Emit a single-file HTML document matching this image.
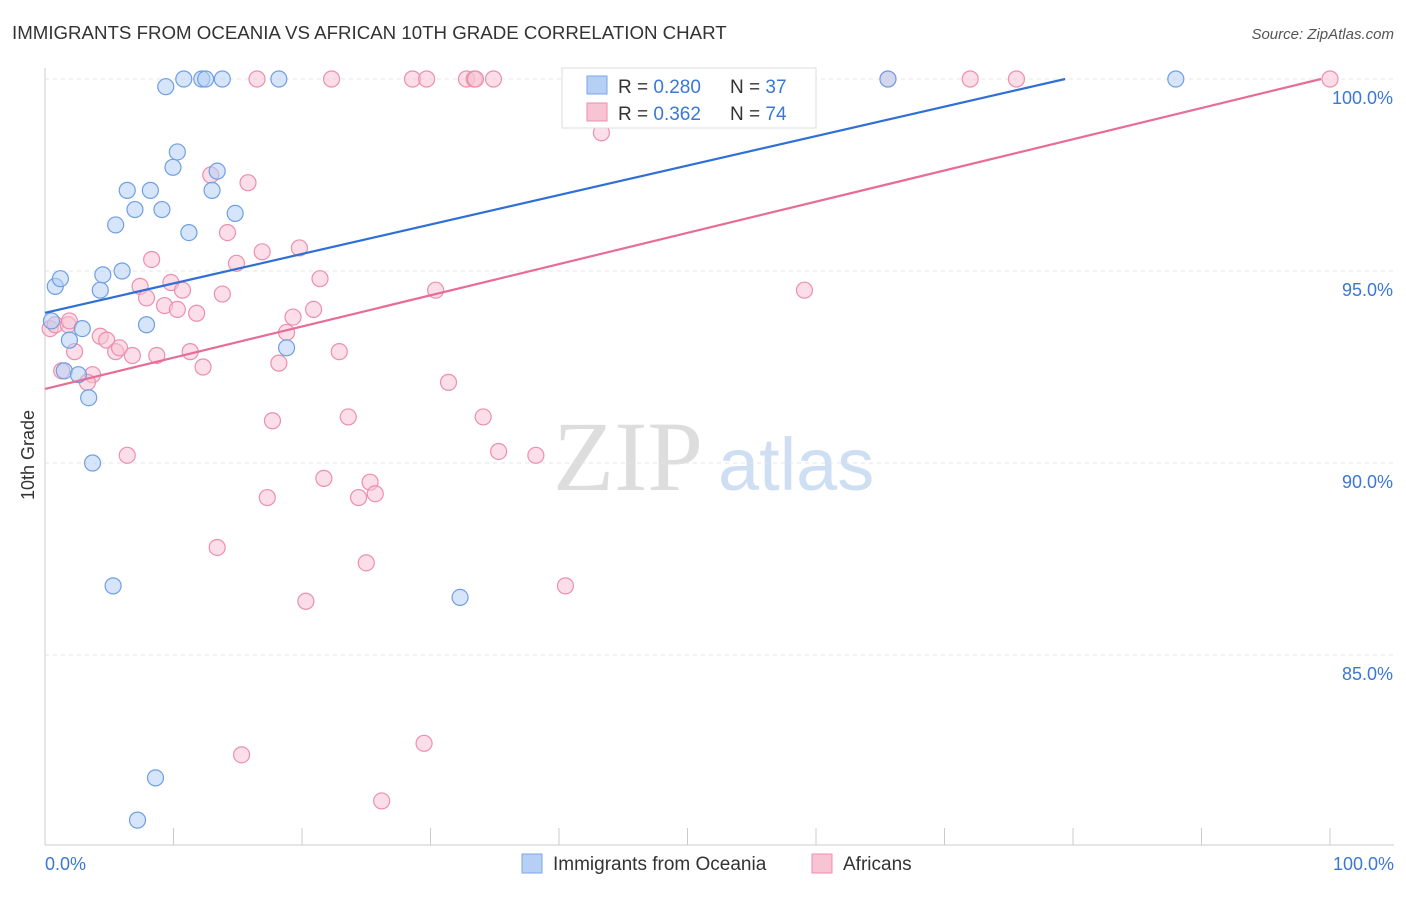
<!DOCTYPE html>
<html><head><meta charset="utf-8"><style>
body{margin:0;background:#fff;font-family:"Liberation Sans",sans-serif;}
</style></head><body>
<svg id="c" width="1406" height="892" xmlns="http://www.w3.org/2000/svg">
<text x="12" y="39" font-size="18.7" fill="#333">IMMIGRANTS FROM OCEANIA VS AFRICAN 10TH GRADE CORRELATION CHART</text>
<text x="1394" y="39" font-size="15" fill="#555" font-style="italic" text-anchor="end">Source: ZipAtlas.com</text>
<text x="34" y="455" font-size="18" fill="#333" transform="rotate(-90 34 455)" text-anchor="middle">10th Grade</text>
<text x="553" y="490" font-size="100" fill="#ddd" font-family="Liberation Serif">ZIP</text>
<text x="718" y="490" font-size="74" fill="#cfdff3">atlas</text>
<g id="grid"></g><g id="marks"></g>
<g>
<rect x="562" y="68" width="254" height="60" fill="#fff" stroke="#ddd"/>
<rect x="587" y="76" width="20" height="18" fill="#b5cff5" stroke="#7aa5e6"/>
<rect x="587" y="103" width="20" height="18" fill="#f8c3d3" stroke="#ec8fae"/>
<text x="618" y="93" font-size="19" fill="#333">R = <tspan fill="#3a78d4">0.280</tspan></text>
<text x="730" y="93" font-size="19" fill="#333">N = <tspan fill="#3a78d4">37</tspan></text>
<text x="618" y="120" font-size="19" fill="#333">R = <tspan fill="#3a78d4">0.362</tspan></text>
<text x="730" y="120" font-size="19" fill="#333">N = <tspan fill="#3a78d4">74</tspan></text>
</g>
<g>
<rect x="522" y="854" width="20" height="19" fill="#b5cff5" stroke="#7aa5e6"/>
<text x="553" y="870" font-size="19" fill="#333">Immigrants from Oceania</text>
<rect x="812" y="854" width="20" height="19" fill="#f8c3d3" stroke="#ec8fae"/>
<text x="843" y="870" font-size="19" fill="#333">Africans</text>
</g>
</svg>
<script>
const yTicks=[100,95,90,85];
const xTickLabels=["0.0%","100.0%"];
const blueX=[0.8,1.2,0.5,1.9,1.5,2.6,2.9,3.4,3.7,4.3,4.5,5.3,5.5,6.0,6.4,7.0,7.9,8.2,8.6,9.1,9.4,9.96,10.3,10.8,11.2,12.2,12.5,13.0,13.4,13.8,14.8,18.2,18.8,32.3,65.6,88.0,7.2];
const blueY=[94.6,94.8,93.7,93.2,92.4,92.3,93.5,91.7,90.0,94.5,94.9,86.8,96.2,95.0,97.1,96.6,93.6,97.1,81.8,96.6,99.8,97.7,98.1,100,96.0,100,100,97.1,97.6,100,96.5,100,93.0,86.5,100,100,80.7];
const pinkX=[0.4,0.8,1.3,1.8,2.3,3.7,3.3,4.3,4.8,5.5,5.8,6.4,6.8,7.4,7.9,8.3,8.7,9.3,9.8,10.3,10.7,11.3,11.8,12.3,12.9,13.4,13.8,14.2,14.9,15.3,15.8,16.5,16.9,17.3,17.7,18.2,18.8,19.3,19.8,20.3,20.9,21.4,21.7,22.3,22.9,23.6,24.4,25.0,25.3,25.7,26.2,28.6,29.5,29.7,30.4,31.4,32.8,33.4,34.1,34.9,35.3,38.2,40.5,41.6,43.3,52.4,55.6,59.1,65.6,72.0,75.6,100,33.5,1.9];
const pinkY=[93.5,93.6,92.4,93.6,92.9,92.3,92.1,93.3,93.2,92.9,93.0,90.2,92.8,94.6,94.3,95.3,92.8,94.1,94.7,94.0,94.5,92.9,93.9,92.5,97.5,87.8,94.4,96.0,95.2,82.4,97.3,100,95.5,89.1,91.1,92.6,93.4,93.8,95.6,86.4,94.0,94.8,89.6,100,92.9,91.2,89.1,87.4,89.5,89.2,81.2,100,82.7,100,94.5,92.1,100,100,91.2,100,90.3,90.2,86.8,99.1,98.6,100,99.1,94.5,100,100,100,100,100,93.7];
const X=v=>45+v*12.85, Y=v=>79+(100-v)*38.4;
const ns="http://www.w3.org/2000/svg";
const svg=document.getElementById('c'),grid=document.getElementById('grid'),marks=document.getElementById('marks');
function mk(t,a,p){const e=document.createElementNS(ns,t);for(const k in a)e.setAttribute(k,a[k]);p.appendChild(e);return e;}
mk('line',{x1:45,y1:68,x2:45,y2:845,stroke:'#ccc'},grid);
mk('line',{x1:45,y1:845,x2:1394,y2:845,stroke:'#ccc'},grid);
yTicks.forEach(t=>{
 const l=mk('line',{x1:45,y1:Y(t),x2:1394,y2:Y(t),stroke:'#e4e4e4','stroke-dasharray':'4,4'},grid);
 
 
 const tx=mk('text',{x:1393,y:Y(t)+25,'font-size':18,fill:'#3a78d4','text-anchor':'end'},grid);tx.textContent=t.toFixed(1)+'%';
 
 
});
for(let i=1;i<=10;i++){mk('line',{x1:X(i*10),y1:828,x2:X(i*10),y2:845,stroke:'#ccc'},grid);}
[[0,45,'start'],[1,1394,'end']].forEach(([i,x,a])=>{const t=mk('text',{x:x,y:870,'font-size':18,fill:'#3a78d4','text-anchor':a},grid);t.textContent=xTickLabels[i];
 
 });
function pts(xs,ys,f,s,name){xs.forEach((v,i)=>{const c=mk('circle',{cx:X(v),cy:Y(ys[i]),r:8,fill:f,'fill-opacity':0.55,stroke:s,'stroke-width':1.2},marks);
 
 });}
pts(pinkX,pinkY,'#f8c3d3','#ec8fae','point-africans');
pts(blueX,blueY,'#b5cff5','#6f9fe3','point-oceania');
function fit(xs,ys,col,name,xmax){const n=xs.length,mx=xs.reduce((a,b)=>a+b)/n,my=ys.reduce((a,b)=>a+b)/n;let sxy=0,sxx=0;xs.forEach((x,i)=>{sxy+=(x-mx)*(ys[i]-my);sxx+=(x-mx)**2;});const b=sxy/sxx,a=my-b*mx;
 let x2=xmax; if(a+b*x2>100) x2=(100-a)/b;
 const l=mk('line',{x1:X(0),y1:Y(a),x2:X(x2),y2:Y(a+b*x2),stroke:col,'stroke-width':2.2},marks);
 
 }
fit(blueX,blueY,'#2f6fd6','trend-line-oceania',100);
fit(pinkX,pinkY,'#e86c98','trend-line-africans',100);
</script>
</body></html>
